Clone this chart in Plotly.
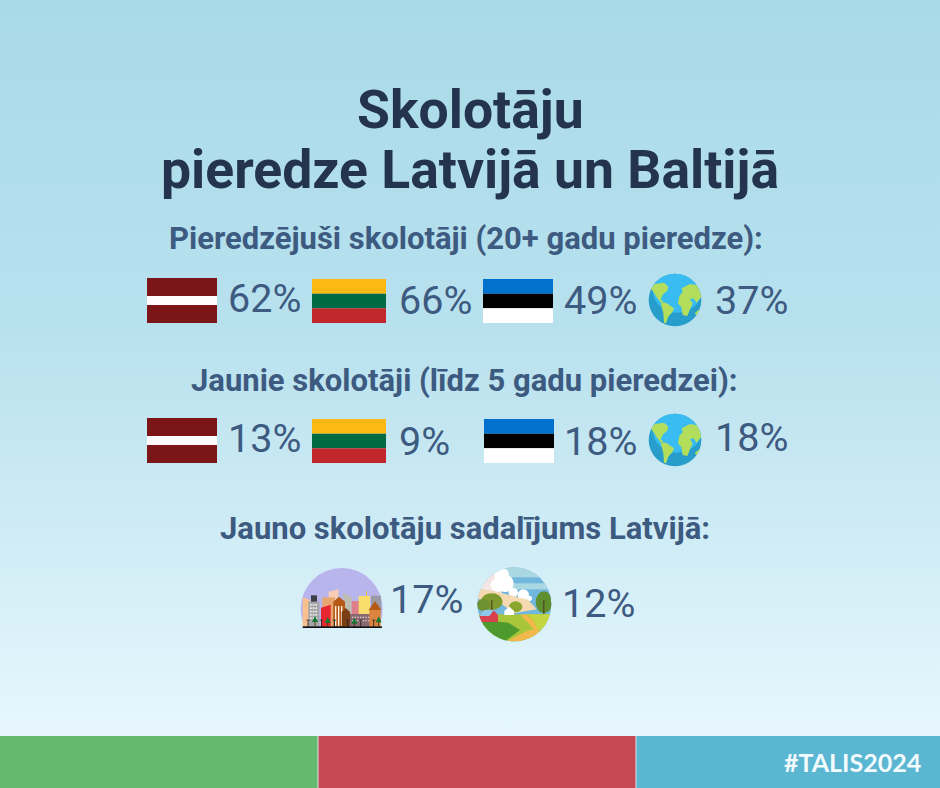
import base64
import plotly.graph_objects as go

W, H = 940, 788

# ---- data ----
title_lines = ["Skolotāju", "pieredze Latvijā un Baltijā"]
section_titles = [
    "Pieredzējuši skolotāji (20+ gadu pieredze):",
    "Jaunie skolotāji (līdz 5 gadu pieredzei):",
    "Jauno skolotāju sadalījums Latvijā:",
]
experienced_pct = [62, 66, 49, 37]      # Latvia, Lithuania, Estonia, world
novice_pct = [13, 9, 18, 18]            # Latvia, Lithuania, Estonia, world
novice_lv_pct = [17, 12]                # city, countryside
hashtag = "#TALIS2024"

# ---- layout ----
ROW1_X = [225.5, 396.5, 561.5, 712.5]
ROW1_Y = [298, 300, 300, 300]
ROW2_X = [225.5, 396.5, 562, 712.5]
ROW2_Y = [438, 441, 441, 437]
ROW3_X = [388, 559.5]
ROW3_Y = [599, 603]
TITLE_Y = [109, 169]
SECTION_X = [466, 464, 464.5]
SECTION_Y = [238, 380, 528]
NAVY = "#24344F"
BLUE = "#3D5A80"


def svg_uri(svg):
    return "data:image/svg+xml;base64," + base64.b64encode(svg.encode("utf-8")).decode()


def poly(points, fill):
    return f'<polygon points="{points}" fill="{fill}"/>'


def box(x, y, w, h, fill):
    return f'<rect x="{x}" y="{y}" width="{w}" height="{h}" fill="{fill}"/>'


def place(source, x, y, w, h):
    return dict(source=source, xref="x", yref="y", x=x, y=y, sizex=w, sizey=h,
                sizing="stretch", xanchor="left", yanchor="top", layer="below")


bg_svg = (f'<svg xmlns="http://www.w3.org/2000/svg" width="{W}" height="736" viewBox="0 0 {W} 736" preserveAspectRatio="none">'
          '<defs><linearGradient id="g" x1="0" y1="0" x2="0" y2="1">'
          '<stop offset="0" stop-color="#A9DAE7"/><stop offset="0.45" stop-color="#B8E1EE"/>'
          '<stop offset="1" stop-color="#E7F7FD"/></linearGradient></defs>'
          f'<rect width="{W}" height="736" fill="url(#g)"/></svg>')

# globe, drawn in a 210x195 box
globe_svg = ('<svg xmlns="http://www.w3.org/2000/svg" width="210" height="195" viewBox="0 0 210 195">'
             '<defs><clipPath id="c"><circle cx="105" cy="90" r="79"/></clipPath></defs>'
             '<g clip-path="url(#c)"><rect width="210" height="195" fill="#279DCB"/>'
             '<ellipse cx="112" cy="60" rx="74" ry="68" fill="#38BCF2"/>'
             + poly("32,55 45,42 72,38 85,50 82,62 70,72 62,88 72,97 62,97 50,82 42,68", "#B2DE5C")
             + poly("62,98 78,98 102,115 98,125 85,140 78,160 72,158 70,130", "#B2DE5C")
             + poly("118,78 128,66 125,55 150,42 185,48 190,75 178,88 170,98 160,85 150,88 158,100 150,118 142,138 128,135 124,112 114,100", "#B2DE5C")
             + poly("165,128 178,118 185,122 180,135 168,136", "#B2DE5C")
             + '</g></svg>')

# city, drawn in a 390x255 box
trees = "".join(
    poly(f"{x-9},{y+6} {x},{y-12} {x+9},{y+6}", "#0E7A30") + box(x - 1.5, y + 4, 3, 14, "#5A3A1A")
    for x, y in [(75, 180), (113, 183), (193, 185), (266, 181)]
)
lamps = "".join(box(x, 180, 2.5, 21, "#222") + box(x - 4, 179, 10, 2.5, "#333")
                for x in [53, 93, 132, 172, 211, 250])
grey_windows = "".join(box(x, y, 5, 5, "#EDEDED") for y in range(132, 180, 10) for x in (60, 68, 76))
city_svg = ('<svg xmlns="http://www.w3.org/2000/svg" width="390" height="255" viewBox="0 0 390 255">'
            '<defs><clipPath id="c"><rect x="0" y="0" width="390" height="203"/></clipPath></defs>'
            '<g clip-path="url(#c)"><circle cx="155" cy="147" r="123" fill="#B8B5EC"/></g>'
            + poly("38,200 38,112 60,120 60,200", "#F9C08F")
            + poly("116,95 145,88 145,140 116,140", "#F7CDB5")
            + box(97, 112, 38, 88, "#E8A570")
            + poly("160,98 185,112 185,200 160,200", "#BDBDB0")
            + box(185, 123, 22, 45, "#DE7F8C")
            + box(206, 108, 34, 60, "#F9DD6D") + box(228, 94, 3, 16, "#F3C33C")
            + box(243, 107, 30, 60, "#9B9BA5")
            + box(55, 125, 33, 75, "#A6A6A6") + box(63, 106, 18, 19, "#3E3E45") + grey_windows
            + poly("93,143 122,134 122,200 93,200", "#E8262F")
            + poly("130,125 147,110 165,125 165,200 130,200", "#B55A16")
            + box(135, 138, 4, 60, "#FFF1E0") + box(144, 138, 4, 60, "#FFF1E0") + box(153, 138, 4, 60, "#FFF1E0")
            + poly("155,156 167,144 180,156 180,200 155,200", "#7A3E12")
            + box(180, 162, 60, 38, "#8A6A70")
            + "".join(box(x, y, 4, 4, "#D8C8C8") for y in (170, 180) for x in range(186, 236, 8))
            + box(238, 150, 34, 50, "#DC853E")
            + poly("236,150 255,123 274,150", "#B55A16")
            + lamps + trees + box(38, 199, 238, 5, "#111")
            + '</svg>')

# countryside, drawn in a 300x255 box
rural_svg = ('<svg xmlns="http://www.w3.org/2000/svg" width="300" height="255" viewBox="0 0 300 255">'
             '<defs><clipPath id="c"><circle cx="133" cy="133" r="111"/></clipPath></defs>'
             '<g clip-path="url(#c)"><rect width="300" height="255" fill="#72B8DE"/>'
             + box(0, 20, 300, 32, "#A9D8E3") + box(0, 70, 300, 18, "#A9D8E3")
             + poly("20,20 85,20 95,100 20,85", "#F4E6E4")
             + '<circle cx="95" cy="45" r="22" fill="#FFF"/><circle cx="105" cy="70" r="26" fill="#FFF"/>'
               '<circle cx="82" cy="75" r="20" fill="#FFF"/><circle cx="130" cy="98" r="14" fill="#FFF"/>'
               '<circle cx="160" cy="105" r="17" fill="#FFF"/><circle cx="178" cy="115" r="8" fill="#FFF"/>'
             + poly("20,85 80,95 130,108 175,120 200,148 130,160 100,135 20,115", "#F5D9B0")
             + box(20, 163, 230, 92, "#A9C63A")
             + poly("20,178 115,188 150,210 90,255 20,255", "#4E9A2E")
             + poly("90,255 172,212 192,208 172,185 150,165 162,165 190,182 205,212 240,218 200,255", "#F2B84B")
             + poly("170,163 250,163 250,190 205,212 190,180", "#C4D63F")
             + poly("160,163 168,163 190,182 205,212 192,208 172,185", "#F2B84B")
             + '<ellipse cx="65" cy="125" rx="33" ry="25" fill="#7E9A2E"/>'
               '<ellipse cx="40" cy="135" rx="20" ry="18" fill="#6E9030"/>'
               '<ellipse cx="137" cy="140" rx="20" ry="16" fill="#8AA62F"/>'
               '<ellipse cx="222" cy="127" rx="25" ry="33" fill="#5F8F2E"/>'
             + box(220, 120, 3, 42, "#4A3A20") + box(64, 120, 3, 30, "#4A3A20")
             + poly("103,153 118,140 132,153 132,165 103,165", "#FFF")
             + poly("28,168 42,150 70,150 84,165 84,186 28,186", "#D9414F")
             + poly("28,168 42,150 72,150 58,168", "#8EC8E8")
             + '</g></svg>')

LV_FLAG = ["#7C1518", "#FFFAFC", "#7C1518"]
LV_BANDS = [0.0, 0.4, 0.6, 1.0]
LT_FLAG = ["#FDB913", "#006A44", "#C1272D"]
EE_FLAG = ["#0072CE", "#000000", "#FFFFFF"]
EQUAL_BANDS = [0.0, 1 / 3, 2 / 3, 1.0]
FLAG_BOXES = [
    (147, 278, 217, 323, LV_FLAG, LV_BANDS),
    (312, 279, 386, 323, LT_FLAG, EQUAL_BANDS),
    (483, 279, 553, 323, EE_FLAG, EQUAL_BANDS),
    (147, 418, 217, 463, LV_FLAG, LV_BANDS),
    (312, 419, 386, 463, LT_FLAG, EQUAL_BANDS),
    (484, 419, 554, 463, EE_FLAG, EQUAL_BANDS),
]

shapes = []
for x0, y0, x1, y1, colours, bands in FLAG_BOXES:
    for i, colour in enumerate(colours):
        shapes.append(dict(type="rect", xref="x", yref="y", x0=x0, x1=x1,
                           y0=y0 + (y1 - y0) * bands[i], y1=y0 + (y1 - y0) * bands[i + 1],
                           fillcolor=colour, line_width=0, layer="above"))
for x0, x1, colour in [(0, 318, "#65B96F"), (318, 636, "#C64853"), (636, 940, "#5BB6D2")]:
    shapes.append(dict(type="rect", xref="x", yref="y", x0=x0, x1=x1, y0=736, y1=788,
                       fillcolor=colour, line=dict(width=0), layer="above"))
for x in (318, 636):
    shapes.append(dict(type="line", xref="x", yref="y", x0=x, x1=x, y0=736, y1=788,
                       line=dict(color="#D5E8EC", width=1), layer="above"))

images = [
    place(svg_uri(bg_svg), 0, 0, W, 736),
    place(svg_uri(globe_svg), 640, 270, 70, 65),
    place(svg_uri(globe_svg), 640, 410, 70, 65),
    place(svg_uri(city_svg), 290, 560, 130, 85),
    place(svg_uri(rural_svg), 470, 560, 100, 85),
]

annotations = []


def text(s, x, y, size, colour, bold=False, anchor="center", family="Roboto"):
    annotations.append(dict(text=f"<b>{s}</b>" if bold else s, x=x, y=y, xref="x", yref="y",
                            xanchor=anchor, yanchor="middle", showarrow=False,
                            font=dict(family=family, size=size, color=colour)))


for line, y in zip(title_lines, TITLE_Y):
    text(line, 470, y, 53.5, NAVY, bold=True)
for line, x, y in zip(section_titles, SECTION_X, SECTION_Y):
    text(line, x, y, 31, BLUE, bold=True)
for values, xs, ys in [(experienced_pct, ROW1_X, ROW1_Y), (novice_pct, ROW2_X, ROW2_Y), (novice_lv_pct, ROW3_X, ROW3_Y)]:
    for v, x, y in zip(values, xs, ys):
        text(f"{v}%", x, y, 39.5, BLUE, anchor="left")
text(hashtag, 923, 762, 25, "#F2FBFE", bold=True, anchor="right", family="Lato")

fig = go.Figure()
fig.update_layout(
    width=W, height=H, margin=dict(l=0, r=0, t=0, b=0), autosize=False,
    paper_bgcolor="#B8E1EE", plot_bgcolor="rgba(0,0,0,0)", showlegend=False,
    xaxis=dict(range=[0, W], visible=False, fixedrange=True),
    yaxis=dict(range=[H, 0], visible=False, fixedrange=True),
    shapes=shapes, images=images, annotations=annotations,
)
fig.write_html("out.html", config={"displayModeBar": False},
               post_script="document.body.style.margin='0';document.documentElement.style.overflow='hidden';")
